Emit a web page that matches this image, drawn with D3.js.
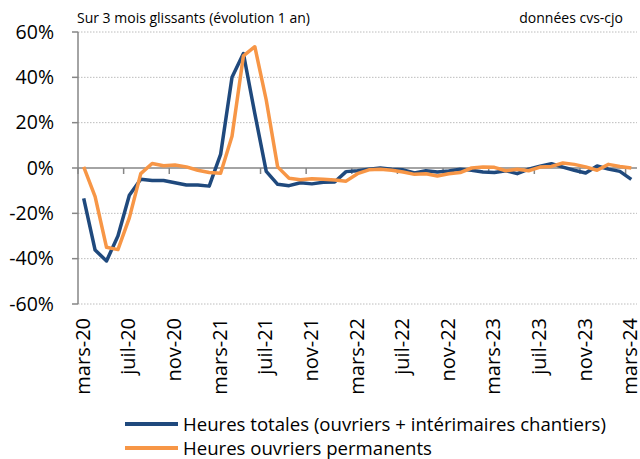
<!DOCTYPE html>
<html>
<head>
<meta charset="utf-8">
<script src="https://cdn.jsdelivr.net/npm/d3@7"></script>
<style>
  body { margin: 0; background: #fff; }
  svg { display: block; font-family: "Open Sans", "Noto Sans", sans-serif; }
</style>
</head>
<body>
<svg id="chart" width="640" height="459"></svg>
<script>
// Data (monthly, mars-20 to mars-24)
const monthNames = ["janv", "févr", "mars", "avr", "mai", "juin", "juil", "août", "sept", "oct", "nov", "déc"];
const months = [];
for (let k = 0; k < 49; k++) {
    const m = (2 + k) % 12;
    const yr = 20 + Math.floor((2 + k) / 12);
    months.push(monthNames[m] + "-" + yr);
}

const heuresTotales = [
    -13.4, -36.2, -41, -30, -12, -5, -5.5, -5.5, -6.5, -7.5, -7.5, -8,
    6, 40, 50.5, 24, -1.5, -7.2, -7.8, -6.5, -7, -6.3, -6.2, -1.6,
    -1.2, -0.5, 0, -0.5, -0.8, -2.2, -1.2, -1.8, -1.3, -0.5, -1, -1.8,
    -2, -1.2, -2.5, -0.5, 0.8, 1.9, 0.4, -1, -2.2, 0.9, -0.5, -1.5,
    -5
];
const heuresPermanents = [
    0.5, -12.6, -35, -36, -22, -2.5, 2, 1, 1.3, 0.5, -1, -2,
    -2.3, 14, 49.5, 53.5, 30, 0.5, -4.5, -5.2, -4.7, -5, -5.3, -5.8,
    -2.5, -0.8, -0.6, -1, -1.8, -2.8, -2.5, -3.5, -2.5, -2, 0, 0.4,
    0.3, -1.2, -0.6, -1.2, 0.4, 0.7, 2.2, 1.6, 0.5, -1, 1.6, 0.7,
    0
];
const yTicks = [-60, -40, -20, 0, 20, 40, 60];
const seriesNames = ["Heures totales (ouvriers + intérimaires chantiers)", "Heures ouvriers permanents"];
const seriesColors = ["#1f497d", "#f79646"];

const svg = d3.select("#chart");
const plotLeft = 78, plotRight = 637, plotTop = 32, plotBottom = 304;

const x = d3.scaleBand().domain(months).range([plotLeft, plotRight]);
const y = d3.scaleLinear().domain([-60, 60]).range([plotBottom, plotTop]);
const xc = d => x(d) + x.bandwidth() / 2;

// gridlines (dotted), skip zero
svg.append("g").selectAll("line")
    .data(yTicks.filter(t => t !== 0))
    .join("line")
    .attr("x1", plotLeft).attr("x2", plotRight)
    .attr("y1", d => y(d)).attr("y2", d => y(d))
    .attr("stroke", "#bcbcbc")
    .attr("stroke-width", 1)
    .attr("stroke-dasharray", "1.5,1.5");

// y axis
svg.append("line")
    .attr("x1", plotLeft).attr("x2", plotLeft)
    .attr("y1", plotTop).attr("y2", plotBottom)
    .attr("stroke", "#868686").attr("stroke-width", 1.5);
svg.append("g").selectAll("line")
    .data(yTicks)
    .join("line")
    .attr("x1", plotLeft - 6).attr("x2", plotLeft)
    .attr("y1", d => y(d)).attr("y2", d => y(d))
    .attr("stroke", "#868686").attr("stroke-width", 1.5);
svg.append("g").selectAll("text")
    .data(yTicks)
    .join("text")
    .attr("x", 54)
    .attr("y", d => y(d))
    .attr("dy", "0.35em")
    .attr("text-anchor", "end")
    .attr("font-size", 19.5)
    .attr("fill", "#000")
    .text(d => d + "%");

// zero line + category ticks
svg.append("line")
    .attr("x1", plotLeft).attr("x2", plotRight)
    .attr("y1", y(0)).attr("y2", y(0))
    .attr("stroke", "#868686").attr("stroke-width", 1.5);

const labelled = months.filter((d, i) => i % 4 === 0);
svg.append("g").selectAll("line")
    .data(labelled)
    .join("line")
    .attr("x1", d => x(d)).attr("x2", d => x(d))
    .attr("y1", y(0)).attr("y2", y(0) + 6)
    .attr("stroke", "#868686").attr("stroke-width", 1.5);

svg.append("g").selectAll("text")
    .data(labelled)
    .join("text")
    .attr("transform", d => `translate(${xc(d)},318) rotate(-90)`)
    .attr("dy", "0.3em")
    .attr("text-anchor", "end")
    .attr("font-size", 20)
    .attr("fill", "#000")
    .text(d => d);

// lines
const line = d3.line()
    .x((d, i) => xc(months[i]))
    .y(d => y(d));

[heuresTotales, heuresPermanents].forEach((s, k) => {
    svg.append("path")
        .datum(s)
        .attr("d", line)
        .attr("fill", "none")
        .attr("stroke", seriesColors[k])
        .attr("stroke-width", 3.5)
        .attr("stroke-linejoin", "round");
});

// titles
svg.append("text")
    .attr("x", 77).attr("y", 23)
    .attr("font-size", 14)
    .text("Sur 3 mois glissants (évolution 1 an)");
svg.append("text")
    .attr("x", 623).attr("y", 23)
    .attr("text-anchor", "end")
    .attr("font-size", 14)
    .text("données cvs-cjo");

// legend
const legend = svg.append("g").selectAll("g")
    .data(seriesNames)
    .join("g")
    .attr("transform", (d, i) => `translate(125,${424 + i * 24})`);
legend.append("line")
    .attr("x1", 0).attr("x2", 53)
    .attr("stroke", (d, i) => seriesColors[i])
    .attr("stroke-width", 4);
legend.append("text")
    .attr("x", 58)
    .attr("dy", "0.35em")
    .attr("font-size", 18.6)
    .text(d => d);
</script>
</body>
</html>
